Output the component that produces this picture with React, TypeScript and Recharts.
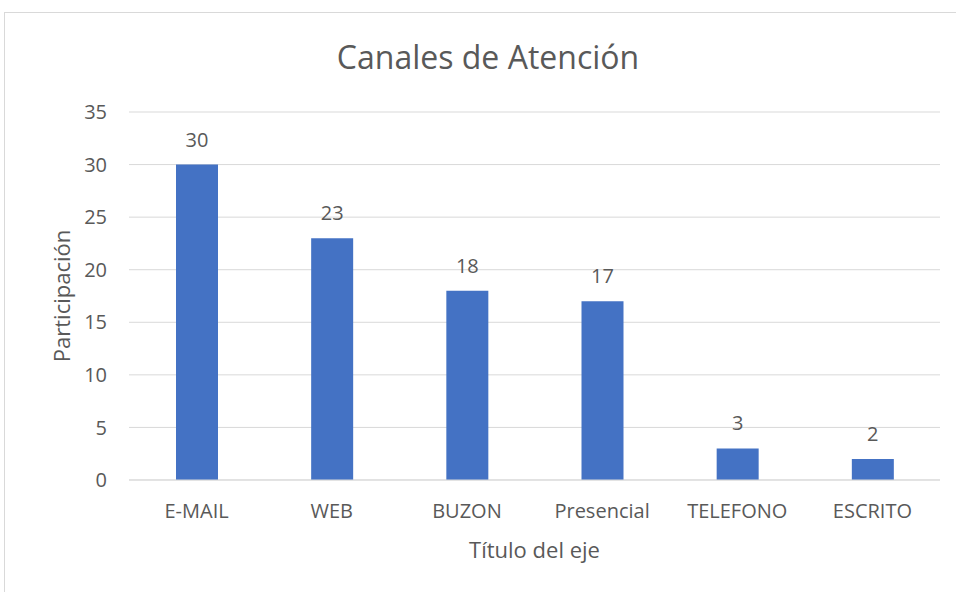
import { Bar, BarChart, CartesianGrid, LabelList, XAxis, YAxis } from 'recharts'

const canales = ['E-MAIL', 'WEB', 'BUZON', 'Presencial', 'TELEFONO', 'ESCRITO']
const participacion = [30, 23, 18, 17, 3, 2]
const yTicks = [0, 5, 10, 15, 20, 25, 30, 35]

const data = canales.map((canal, i) => ({ canal, valor: participacion[i] }))

const font = "'Open Sans', sans-serif"
const textColor = '#595959'

export default function App() {
  return (
    <div
      style={{
        position: 'absolute',
        left: 4,
        top: 12,
        width: 951,
        height: 579,
        borderLeft: '1px solid #d9d9d9',
        borderTop: '1px solid #d9d9d9',
        background: '#fff',
        fontFamily: font,
        overflow: 'hidden',
      }}
    >
      <div
        style={{
          position: 'absolute',
          left: 483,
          top: 28,
          transform: 'translateX(-50%)',
          fontSize: 32,
          lineHeight: '32px',
          color: textColor,
          whiteSpace: 'nowrap',
        }}
      >
        Canales de Atención
      </div>
      <BarChart
        width={951}
        height={579}
        data={data}
        margin={{ top: 99, right: 16, left: 0, bottom: 12 }}
      >
        <CartesianGrid vertical={false} stroke="#d9d9d9" />
        <XAxis
          dataKey="canal"
          height={100}
          axisLine={{ stroke: '#d9d9d9' }}
          tickLine={false}
          tickSize={0}
          tickMargin={24}
          tick={{ fill: textColor, fontSize: 20, fontFamily: font }}
          label={{
            value: 'Título del eje',
            position: 'insideBottom',
            offset: 22,
            fill: textColor,
            fontSize: 22,
            fontFamily: font,
          }}
        />
        <YAxis
          width={124}
          domain={[0, 35]}
          ticks={yTicks}
          axisLine={false}
          tickLine={false}
          tickSize={0}
          tickMargin={22}
          tick={{ fill: textColor, fontSize: 20, fontFamily: font }}
          label={{
            content: (props: any) => {
              const vb = props.viewBox
              const x = vb.x + 65
              const y = vb.y + vb.height / 2
              return (
                <text
                  x={x}
                  y={y}
                  transform={`rotate(-90 ${x} ${y})`}
                  textAnchor="middle"
                  fill={textColor}
                  fontSize={22}
                  fontFamily={font}
                >
                  Participación
                </text>
              )
            },
          }}
        />
        <Bar dataKey="valor" fill="#4472C4" barSize={42} isAnimationActive={false}>
          <LabelList
            dataKey="valor"
            position="top"
            offset={18}
            fill={textColor}
            fontSize={20}
            fontFamily={font}
          />
        </Bar>
      </BarChart>
    </div>
  )
}
